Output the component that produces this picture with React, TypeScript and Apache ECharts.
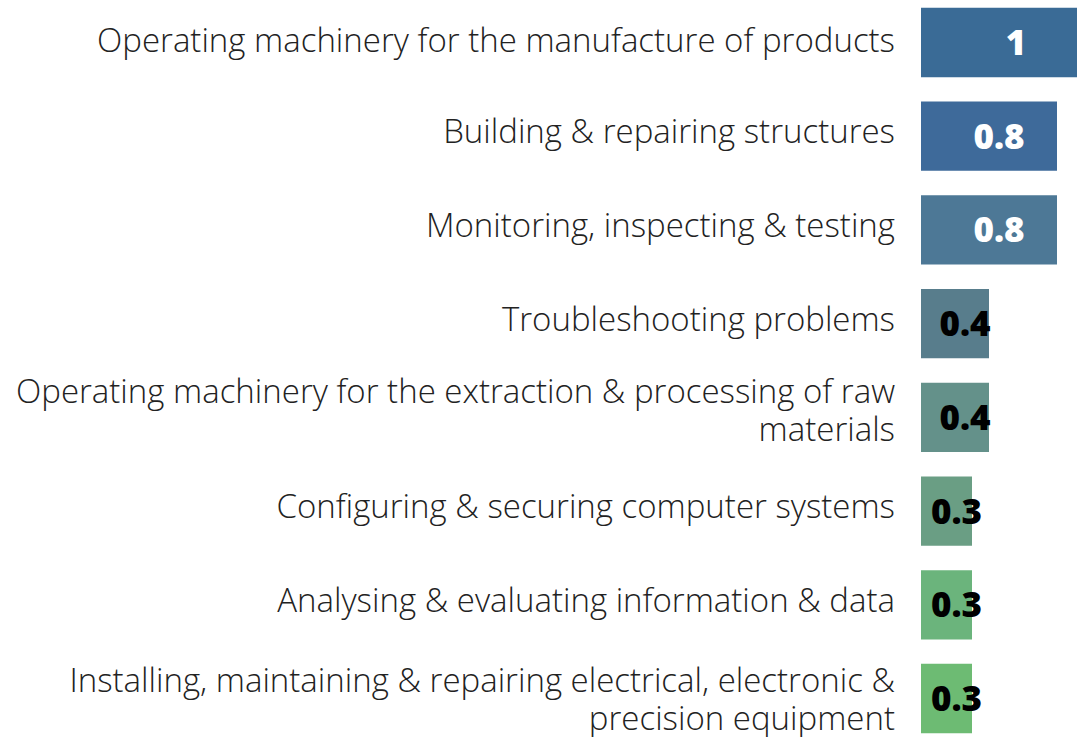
import React, { useEffect, useRef } from "react";
import * as echarts from "echarts";

const categories: string[] = [
  "Operating machinery for the manufacture of products",
  "Building & repairing structures",
  "Monitoring, inspecting & testing",
  "Troubleshooting problems",
  "Operating machinery for the extraction & processing of raw\nmaterials",
  "Configuring & securing computer systems",
  "Analysing & evaluating information & data",
  "Installing, maintaining & repairing electrical, electronic &\nprecision equipment",
];

const values: number[] = [1, 0.8, 0.8, 0.4, 0.4, 0.3, 0.3, 0.3];

const barColors: string[] = [
  "#3a6b96",
  "#3e6a9a",
  "#4d7896",
  "#587d8c",
  "#64918a",
  "#6a9e84",
  "#6bb47c",
  "#6dbb73",
];

const labelColors: string[] = [
  "#ffffff",
  "#ffffff",
  "#ffffff",
  "#000000",
  "#000000",
  "#000000",
  "#000000",
  "#000000",
];

export default function App() {
  const ref = useRef<HTMLDivElement>(null);
  useEffect(() => {
    if (!ref.current) return;
    const chart = echarts.init(ref.current, undefined, { renderer: "svg" });
    const txt = {
      fontFamily: "Open Sans",
      fontWeight: 300,
      fontSize: 33,
      lineHeight: 38,
      color: "#222222",
    };
    const last = categories.length - 1;
    chart.setOption({
      animation: false,
      grid: {
        left: 921,
        width: 170,
        top: -4.4,
        height: 749.8,
        outerBoundsMode: "none",
        containLabel: false,
      },
      xAxis: {
        type: "value",
        min: 0,
        max: 1,
        show: false,
      },
      yAxis: {
        type: "category",
        inverse: true,
        data: categories,
        axisLine: { show: false },
        axisTick: { show: false },
        axisLabel: {
          margin: 26,
          align: "right",
          ...txt,
          formatter: (v: string, idx: number) => {
            const body = v
              .split("\n")
              .map((l) => `{t|${l}}`)
              .join("\n");
            if (idx === last) return body;
            if (idx === 0) return body + "\n{s0| }";
            return body + (v.includes("\n") ? "\n{s2| }" : "\n{s1| }");
          },
          rich: {
            t: { ...txt },
            s0: { fontSize: 1, lineHeight: 6 },
            s1: { fontSize: 1, lineHeight: 11 },
            s2: { fontSize: 1, lineHeight: 16 },
          },
        },
      },
      series: [
        {
          type: "bar",
          clip: false,
          barCategoryGap: "26%",
          data: values.map((v, i) => ({
            value: v,
            itemStyle: { color: barColors[i] },
            label: { color: labelColors[i] },
          })),
          label: {
            show: true,
            position: "inside",
            offset: [10, -1],
            fontFamily: "Open Sans",
            fontWeight: 800,
            fontSize: 35,
            formatter: (p: any) => String(p.value),
          },
        },
      ],
    });
    return () => chart.dispose();
  }, []);
  return (
    <div
      ref={ref}
      style={{ position: "absolute", left: 0, top: 0, width: 1077, height: 737 }}
    />
  );
}
